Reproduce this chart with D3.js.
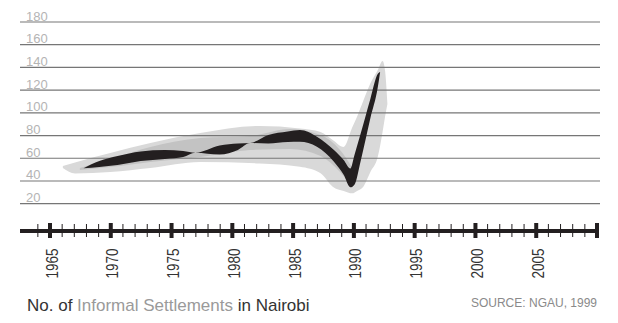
<!DOCTYPE html>
<html lang="en">
<head>
<meta charset="UTF-8">
<title>No. of Informal Settlements in Nairobi</title>
<script src="https://d3js.org/d3.v7.min.js"></script>
<style>
    body { margin: 0; background: #fff; }
    svg { display: block; font-family: "Liberation Sans", Arial, sans-serif; }
</style>
</head>
<body>
<svg width="618" height="323"></svg>

<script>
    // values (years / number of settlements)
    var gridValues = [20, 40, 60, 80, 100, 120, 140, 160, 180];
    var majorYears = [1965, 1970, 1975, 1980, 1985, 1990, 1995, 2000, 2005];
    var minorYears = d3.range(1964, 2010);

    // light grey envelope
    var envYears = [1966.1, 1967.1, 1970.0, 1973.3, 1977.4, 1982.3, 1985.6, 1987.3, 1988.3, 1989.2, 1989.9, 1990.3, 1990.8, 1991.4, 1992.0, 1992.4, 1992.6, 1992.8];
    var envHigh = [53.2, 56.3, 64.6, 73.4, 82.2, 88.4, 86.2, 83.1, 76.1, 69.9, 87.0, 96.6, 110.2, 126.0, 137.5, 145.7, 137.7, 107.8];
    var envLow = [51.4, 46.6, 47.9, 51.4, 56.7, 55.4, 52.6, 46.8, 35.0, 31.2, 29.1, 31.2, 34.7, 47.9, 61.1, 83.1, 96.3, 107.8];

    // mid grey shadow of the ribbon
    var shadowYears = [1967.5, 1970.8, 1973.3, 1977.4, 1981.5, 1984.8, 1987.3, 1988.9, 1989.9];
    var shadowHigh = [51.4, 62.0, 69.9, 77.8, 79.6, 85.8, 80.5, 67.3, 52.0];
    var shadowLow = [49.7, 53.2, 56.7, 61.1, 67.3, 68.2, 62.0, 47.9, 34.0];

    // black twisted ribbon
    var ribbonYears = [1967.8, 1969.1, 1970.6, 1972.5, 1974.5, 1976.0, 1977.0, 1979.0, 1980.5, 1981.5, 1983.0, 1984.6, 1985.6, 1987.0, 1988.4, 1989.2, 1989.75, 1990.1, 1990.6, 1991.4, 1992.0, 1992.2];
    var ribbonHigh = [51.2, 57.6, 61.9, 66.0, 67.3, 66.4, 64.9, 71.2, 73.0, 73.4, 80.5, 83.6, 84.9, 79.0, 67.3, 58.5, 51.0, 63.4, 81.8, 112.5, 134.2, 136.0];
    var ribbonLow = [51.2, 52.3, 54.1, 57.6, 59.4, 61.1, 64.9, 63.3, 67.3, 73.4, 73.0, 74.3, 74.6, 70.2, 57.0, 45.5, 34.5, 37.0, 57.7, 95.5, 122.1, 136.0];

    var svg = d3.select("svg");

    var x = d3.scaleLinear().domain([1965, 2010]).range([49.5, 596.5]);
    var y = d3.scaleLinear().domain([0, 180]).range([226.4, 22]);

    function band(years, high, low) {
        return years.map(function (d, i) {
            return {year: d, high: high[i], low: low[i]};
        });
    }

    var area = d3.area()
        .curve(d3.curveMonotoneX)
        .x(function (d) { return x(d.year); })
        .y0(function (d) { return y(d.low); })
        .y1(function (d) { return y(d.high); });

    svg.append("path")
        .datum(band(envYears, envHigh, envLow))
        .attr("fill", "#d9d9d9")
        .attr("d", area);

    svg.append("path")
        .datum(band(shadowYears, shadowHigh, shadowLow))
        .attr("fill", "#c3c3c3")
        .attr("d", area);

    // grid
    var grid = svg.append("g").attr("class", "grid");
    grid.selectAll("line")
        .data(gridValues)
        .enter().append("line")
        .attr("x1", 20)
        .attr("x2", 600)
        .attr("y1", function (d) { return y(d); })
        .attr("y2", function (d) { return y(d); })
        .attr("stroke", "#767676")
        .attr("stroke-width", 1.2);

    grid.selectAll("text")
        .data(gridValues)
        .enter().append("text")
        .attr("x", 26)
        .attr("y", function (d) { return y(d) - 1.5; })
        .attr("fill", "#b4b4b4")
        .attr("font-size", 13)
        .text(function (d) { return d; });

    svg.append("path")
        .datum(band(ribbonYears, ribbonHigh, ribbonLow))
        .attr("fill", "#231f20")
        .attr("d", area);

    // x axis
    svg.append("line")
        .attr("x1", 20)
        .attr("x2", x(2010))
        .attr("y1", 231)
        .attr("y2", 231)
        .attr("stroke", "#231f20")
        .attr("stroke-width", 4);

    var minorAxis = svg.append("g")
        .attr("transform", "translate(0,224)")
        .call(d3.axisBottom(x).tickValues(minorYears).tickSize(13).tickFormat(""));
    minorAxis.select(".domain").remove();
    minorAxis.selectAll(".tick line").attr("stroke", "#231f20").attr("stroke-width", 1);

    var majorAxis = svg.append("g")
        .attr("transform", "translate(0,223)")
        .call(d3.axisBottom(x).tickValues(majorYears.concat([2010])).tickSize(15).tickFormat(""));
    majorAxis.select(".domain").remove();
    majorAxis.selectAll(".tick line").attr("stroke", "#231f20").attr("stroke-width", 4);

    svg.append("g")
        .selectAll("text")
        .data(majorYears)
        .enter().append("text")
        .attr("transform", function (d) { return "translate(" + (x(d) + 8) + ",278.5) rotate(-90)"; })
        .attr("font-size", 16)
        .attr("fill", "#333")
        .attr("textLength", 30)
        .attr("lengthAdjust", "spacingAndGlyphs")
        .text(function (d) { return d; });

    // titles
    var title = svg.append("text")
        .attr("x", 27)
        .attr("y", 311)
        .attr("font-size", 17)
        .attr("fill", "#333");
    title.append("tspan").text("No. of ");
    title.append("tspan").attr("fill", "#9a9a9a").text("Informal Settlements");
    title.append("tspan").text(" in Nairobi");

    svg.append("text")
        .attr("x", 597)
        .attr("y", 307)
        .attr("text-anchor", "end")
        .attr("font-size", 12)
        .attr("fill", "#8a8a8a")
        .text("SOURCE: NGAU, 1999");
</script>
</body>
</html>
